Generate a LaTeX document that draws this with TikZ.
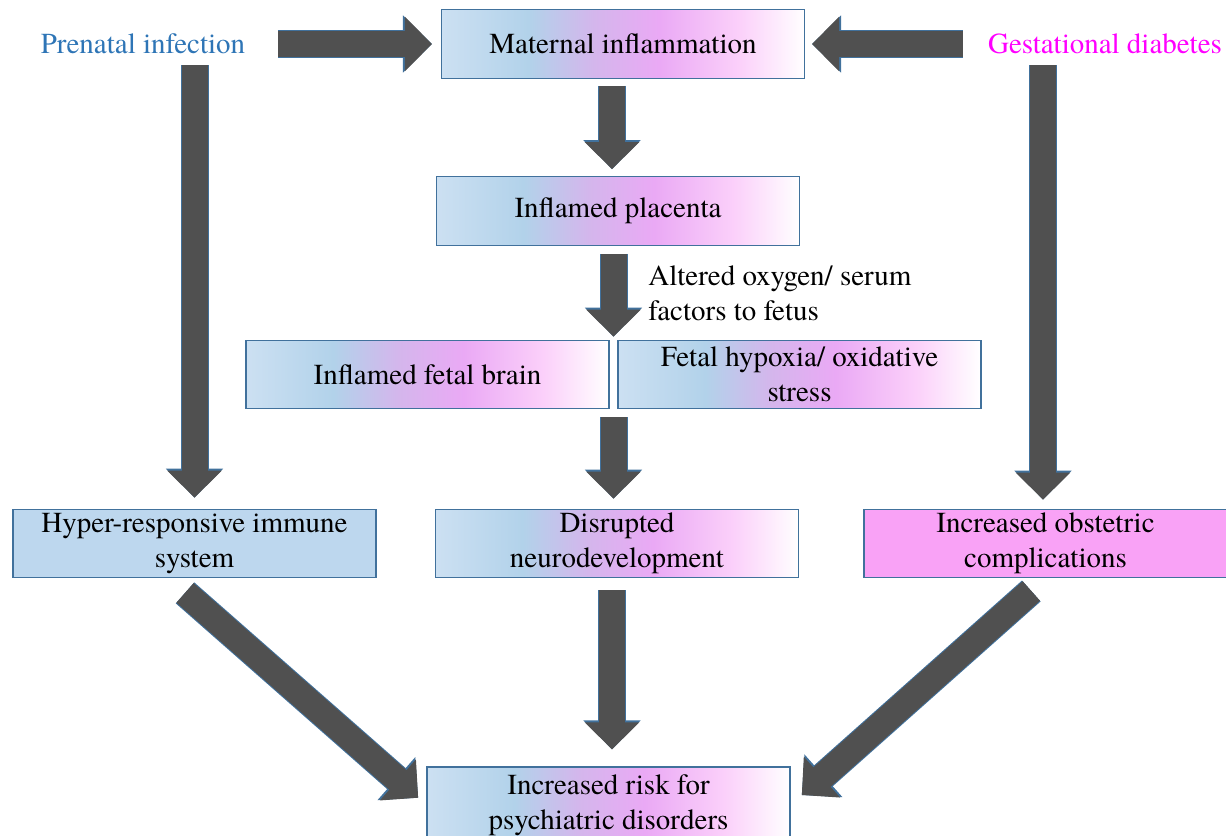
\documentclass[tikz,border=0pt]{standalone}
\usepackage{fontspec}
\setmainfont{TeX Gyre Termes}
\usetikzlibrary{arrows.meta,calc}
\definecolor{framesteel}{HTML}{41719C}
\definecolor{arrowgray}{HTML}{505050}
\definecolor{infectblue}{HTML}{2E75B6}
\definecolor{diabmagenta}{HTML}{FF00FF}
\definecolor{immuneblue}{HTML}{BDD7EE}
\definecolor{obstpink}{HTML}{F9A2F6}
\definecolor{gradA}{HTML}{CCE0F2}
\definecolor{gradB}{HTML}{B2D2EA}
\definecolor{gradC}{HTML}{D4B6EC}
\definecolor{gradD}{HTML}{EAA9F5}
\definecolor{gradE}{HTML}{FBD0FA}
\definecolor{gradF}{HTML}{FFFFFF}
\pgfdeclarehorizontalshading{flowgrad}{100bp}{color(0bp)=(gradA); color(25bp)=(gradA); color(37bp)=(gradB); color(46bp)=(gradC); color(55bp)=(gradD); color(66bp)=(gradE); color(75bp)=(gradF); color(100bp)=(gradF)}
\tikzset{
  flowbox/.style={draw=framesteel,line width=0.7pt,minimum width=7.26cm,minimum height=1.37cm,inner sep=2pt,align=center,font=\fontsize{16.5}{20}\selectfont},
  gradbox/.style={flowbox,shading=flowgrad},
  sourcetext/.style={inner sep=0pt,font=\fontsize{16.5}{20}\selectfont},
  blockarrow/.style={draw=arrowgray,line width=5.2mm,-{Triangle[length=5.4mm,width=10.6mm]},
    preaction={draw=framesteel,line width=5.6mm,-{Triangle[length=5.8mm,width=11.1mm]}}},
}

\begin{document}
\begin{tikzpicture}[x=0.02cm,y=-0.02cm]
    \useasboundingbox (0,0) rectangle (1226,835);
    % sources and first row
    \node[sourcetext,text=infectblue] (prenatal) at (143,44) {Prenatal infection};
    \node[sourcetext,text=diabmagenta] (gestational) at (1105,44) {Gestational diabetes};
    \node[gradbox] (maternal) at (623,44) {Maternal inflammation};
    \node[gradbox] (placenta) at (618,211) {Inflamed placenta};
    \node[sourcetext,align=left,anchor=west] (altered) at (648,293) {Altered oxygen/ serum\\factors to fetus};
    \node[gradbox] (fetalbrain) at (427.5,374.5) {Inflamed fetal brain};
    \node[gradbox] (hypoxia) at (799.5,374.5) {Fetal hypoxia/ oxidative\\stress};
    % outcomes
    \node[flowbox,fill=immuneblue] (hyper) at (194.5,543.5) {Hyper-responsive immune\\system};
    \node[gradbox] (neurodev) at (617,543.5) {Disrupted\\neurodevelopment};
    \node[flowbox,fill=obstpink] (obstetric) at (1045.5,543.5) {Increased obstetric\\complications};
    \node[gradbox,minimum height=1.52cm] (risk) at (608.5,805) {Increased risk for\\psychiatric disorders};
    \coordinate (fetalgap) at ($(fetalbrain.north east)!.5!(hypoxia.north west)$);
    \coordinate (fetalgapb) at ($(fetalbrain.south east)!.5!(hypoxia.south west)$);
    % block arrows
    \draw[blockarrow,shorten <=6.6mm,shorten >=1.8mm] (prenatal.east) -- (maternal.west);
    \draw[blockarrow,shorten <=5mm,shorten >=1.4mm] (gestational.west) -- (maternal.east);
    \draw[blockarrow,shorten <=1.4mm,shorten >=1.4mm] ([xshift=-1.2mm]placenta.north |- maternal.south) -- ([xshift=-1.2mm]placenta.north);
    \draw[blockarrow,shorten <=1.6mm,shorten >=0.6mm] (placenta.south -| fetalgap) -- (fetalgap);
    \draw[blockarrow,shorten <=1.6mm,shorten >=2mm] (fetalgapb) -- (fetalgapb |- neurodev.north);
    \draw[blockarrow,shorten <=2.2mm,shorten >=2.2mm] (hyper.north |- prenatal.south) -- (hyper.north);
    \draw[blockarrow,shorten <=2.2mm,shorten >=1.8mm] ([xshift=-0.5mm]obstetric.north |- gestational.south) -- ([xshift=-0.5mm]obstetric.north);
    \draw[blockarrow,shorten <=2.4mm,shorten >=3.4mm] ([xshift=-1mm]neurodev.south) -- ([xshift=-1mm]neurodev.south |- risk.north);
    \draw[blockarrow,shorten <=4.4mm,shorten >=2.2mm] ([xshift=-5.2mm]hyper.south) -- (risk.west);
    \draw[blockarrow,shorten <=3.8mm,shorten >=3mm] (obstetric.south) -- (risk.east);
\end{tikzpicture}
\end{document}
